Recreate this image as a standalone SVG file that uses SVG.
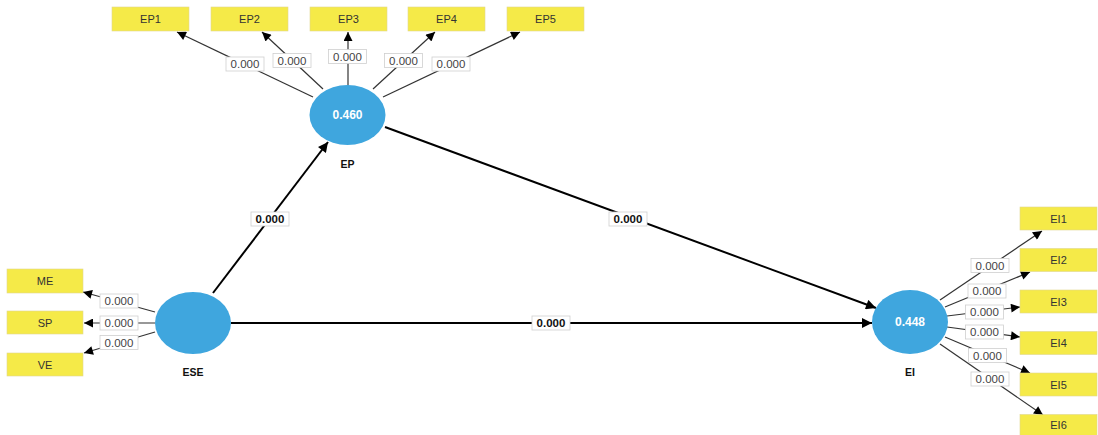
<svg xmlns="http://www.w3.org/2000/svg" width="1098" height="435" viewBox="0 0 1098 435">
<style>
.ind rect{fill:#F5EA48;stroke:#e0d890;stroke-width:0.6}
.ind text{font-family:"Liberation Sans",Arial,sans-serif;font-size:11px;fill:#333;text-anchor:middle;dominant-baseline:central}
.lv ellipse{fill:#3FA6DE}
.lv .v{font-family:"Liberation Sans",Arial,sans-serif;font-size:12px;fill:#fff;text-anchor:middle;dominant-baseline:central;font-weight:bold}
.lv .n{font-family:"Liberation Sans",Arial,sans-serif;font-size:10.5px;fill:#111;text-anchor:middle;dominant-baseline:central;font-weight:bold}
.out{stroke:#333;stroke-width:1.2;fill:none;marker-end:url(#ah)}
.str{stroke:#000;stroke-width:2;fill:none;marker-end:url(#ah2)}
.lb rect{fill:#fff;stroke:#cfcfcf;stroke-width:0.8}
.lb text{font-family:"Liberation Sans",Arial,sans-serif;font-size:11.5px;fill:#444;text-anchor:middle;dominant-baseline:central}
.lbs rect{fill:#fff;stroke:#cfcfcf;stroke-width:0.8}
.lbs text{font-family:"Liberation Sans",Arial,sans-serif;font-size:11.5px;fill:#111;text-anchor:middle;dominant-baseline:central;font-weight:bold}
</style>
<defs>
<marker id="ah" viewBox="0 0 10 10" refX="10" refY="5" markerWidth="11" markerHeight="9" markerUnits="userSpaceOnUse" orient="auto"><path d="M0,0 L10,5 L0,10 z" fill="#000"/></marker>
<marker id="ah2" viewBox="0 0 10 10" refX="10" refY="5" markerWidth="13" markerHeight="10" markerUnits="userSpaceOnUse" orient="auto"><path d="M0,0 L10,5 L0,10 z" fill="#000"/></marker>
</defs>
<rect width="1098" height="435" fill="#fff"/>
<g id="connectors">
<line class="out" x1="313" y1="97" x2="177" y2="32"/>
<line class="out" x1="323" y1="89" x2="262" y2="32"/>
<line class="out" x1="348" y1="86" x2="348" y2="32"/>
<line class="out" x1="373" y1="89" x2="435" y2="32"/>
<line class="out" x1="383" y1="97" x2="520" y2="32"/>
<line class="out" x1="155" y1="312" x2="83" y2="292"/>
<line class="out" x1="155" y1="323" x2="84" y2="323"/>
<line class="out" x1="155" y1="332" x2="84" y2="353"/>
<line class="out" x1="940" y1="300" x2="1042" y2="231"/>
<line class="out" x1="945" y1="307" x2="1030" y2="272"/>
<line class="out" x1="947" y1="316" x2="1020" y2="307"/>
<line class="out" x1="947" y1="327" x2="1020" y2="337"/>
<line class="out" x1="945" y1="337" x2="1030" y2="373"/>
<line class="out" x1="940" y1="344" x2="1043" y2="415"/>
<line class="str" x1="213" y1="293" x2="328" y2="142"/>
<line class="str" x1="385" y1="127" x2="876" y2="308"/>
<line class="str" x1="231" y1="323" x2="872" y2="323"/>
<g class="lb">
<rect x="226" y="57" width="38" height="14"/><text x="245" y="64">0.000</text>
<rect x="273" y="53.5" width="38" height="14"/><text x="292" y="60.5">0.000</text>
<rect x="328.5" y="49.5" width="38" height="14"/><text x="347.5" y="56.5">0.000</text>
<rect x="384.5" y="53.5" width="38" height="14"/><text x="403.5" y="60.5">0.000</text>
<rect x="432" y="57" width="38" height="14"/><text x="451" y="64">0.000</text>
<rect x="100" y="294" width="38" height="14"/><text x="119" y="301">0.000</text>
<rect x="100" y="316" width="38" height="14"/><text x="119" y="323">0.000</text>
<rect x="100" y="335.5" width="38" height="14"/><text x="119" y="342.5">0.000</text>
<rect x="971" y="258.5" width="38" height="14"/><text x="990" y="265.5">0.000</text>
<rect x="968" y="284" width="38" height="14"/><text x="987" y="291">0.000</text>
<rect x="965.5" y="305" width="38" height="14"/><text x="984.5" y="312">0.000</text>
<rect x="965.5" y="325" width="38" height="14"/><text x="984.5" y="332">0.000</text>
<rect x="968.5" y="348.5" width="38" height="14"/><text x="987.5" y="355.5">0.000</text>
<rect x="971" y="372" width="38" height="14"/><text x="990" y="379">0.000</text>
</g>
<g class="lbs">
<rect x="251" y="212" width="38" height="14"/><text x="270" y="219">0.000</text>
<rect x="609" y="212" width="38" height="14"/><text x="628" y="219">0.000</text>
<rect x="532" y="316" width="38" height="14"/><text x="551" y="323">0.000</text>
</g>
</g>
<g id="EP" class="lv"><ellipse cx="347.5" cy="115" rx="38" ry="30"/><text class="v" x="347.5" y="115">0.460</text><text class="n" x="347.5" y="164">EP</text></g>
<g id="ESE" class="lv"><ellipse cx="193" cy="323" rx="38" ry="31"/><text class="n" x="193" y="372">ESE</text></g>
<g id="EI" class="lv"><ellipse cx="910" cy="322" rx="38" ry="32"/><text class="v" x="910" y="322">0.448</text><text class="n" x="910" y="372">EI</text></g>
<g id="EP1" class="ind"><rect x="112" y="7" width="77" height="24"/><text x="150.5" y="19">EP1</text></g>
<g id="EP2" class="ind"><rect x="211" y="7" width="77" height="24"/><text x="249.5" y="19">EP2</text></g>
<g id="EP3" class="ind"><rect x="310" y="7" width="77" height="24"/><text x="348.5" y="19">EP3</text></g>
<g id="EP4" class="ind"><rect x="408" y="7" width="77" height="24"/><text x="446.5" y="19">EP4</text></g>
<g id="EP5" class="ind"><rect x="507" y="7" width="77" height="24"/><text x="545.5" y="19">EP5</text></g>
<g id="ME" class="ind"><rect x="7" y="269" width="76" height="24"/><text x="45" y="281">ME</text></g>
<g id="SP" class="ind"><rect x="7" y="311" width="76" height="23"/><text x="45" y="322.5">SP</text></g>
<g id="VE" class="ind"><rect x="7" y="353" width="76" height="23"/><text x="45" y="364.5">VE</text></g>
<g id="EI1" class="ind"><rect x="1020" y="207" width="77" height="23"/><text x="1058.5" y="218.5">EI1</text></g>
<g id="EI2" class="ind"><rect x="1020" y="248.5" width="77" height="23"/><text x="1058.5" y="260">EI2</text></g>
<g id="EI3" class="ind"><rect x="1020" y="290" width="77" height="23"/><text x="1058.5" y="301.5">EI3</text></g>
<g id="EI4" class="ind"><rect x="1020" y="331.5" width="77" height="23"/><text x="1058.5" y="343">EI4</text></g>
<g id="EI5" class="ind"><rect x="1020" y="373" width="77" height="23"/><text x="1058.5" y="384.5">EI5</text></g>
<g id="EI6" class="ind"><rect x="1020" y="414.5" width="77" height="21"/><text x="1058.5" y="425">EI6</text></g>
</svg>
